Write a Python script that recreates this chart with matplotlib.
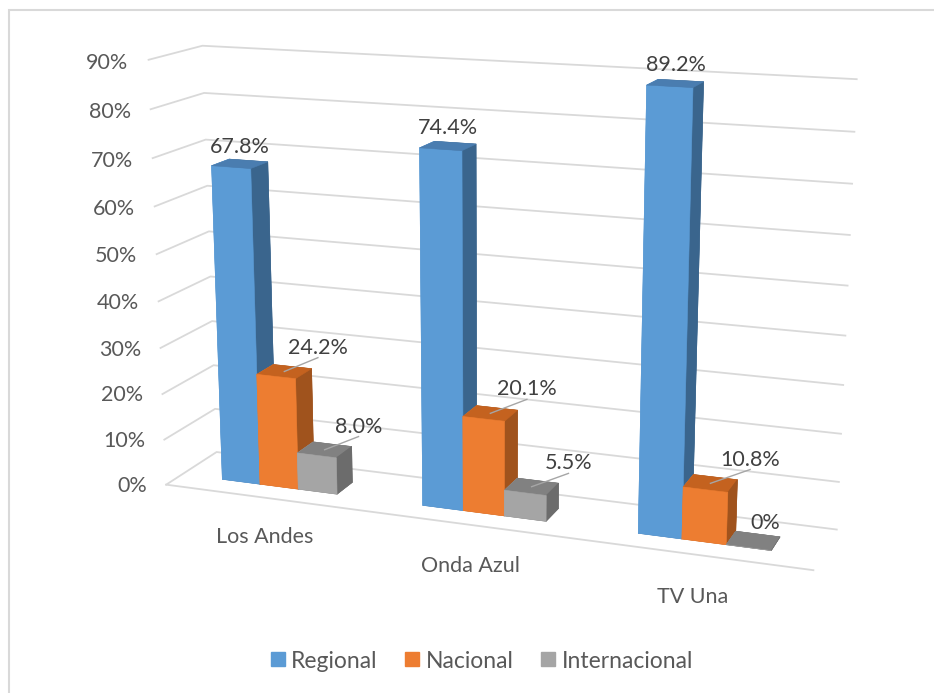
import numpy as np
import matplotlib
matplotlib.use('Agg')
import matplotlib.pyplot as plt
from matplotlib.lines import Line2D
from matplotlib.patches import Rectangle

W, H = 934, 693

# ---- data ----
categories = ['Los Andes', 'Onda Azul', 'TV Una']
series_names = ['Regional', 'Nacional', 'Internacional']
regional = [67.8, 74.4, 89.2]
nacional = [24.2, 20.1, 10.8]
internacional = [8.0, 5.5, 0.0]
value_labels = [['67.8%', '74.4%', '89.2%'],
                ['24.2%', '20.1%', '10.8%'],
                ['8.0%', '5.5%', '0%']]
zticks = [0, 10, 20, 30, 40, 50, 60, 70, 80, 90]
ztick_labels = ['0%', '10%', '20%', '30%', '40%', '50%', '60%', '70%', '80%', '90%']

# ---- style ----
front_col = ['#5B9BD5', '#ED7D31', '#A5A5A5']
top_col = ['#4A7DB0', '#C4621F', '#818181']
side_col = ['#3A658D', '#A0531D', '#6C6C6C']
grid_col = '#D9D9D9'
txt_col = '#595959'
val_col = '#404040'
FS = 15.5

# camera / layout (fitted to reference geometry)
ELEV, AZIM, FOCAL = 14.374, -69.754, 0.4709
BOX = (3, 0.4952, 1.9571)
SQ, CX, CY = 809.01, 480.40, 304.67
BW, YF, DEP, OFF = 0.1938, 0.3126, 0.3413, -0.0015

plt.rcParams['font.family'] = ['Lato', 'DejaVu Sans']

fig = plt.figure(figsize=(W / 100, H / 100), dpi=100)
fig.add_artist(Rectangle((9 / W, -0.1), 1.2, 1.1 - 10 / H,
                         transform=fig.transFigure, fill=False,
                         edgecolor=grid_col, linewidth=1.5))

ax = fig.add_axes([(CX - SQ / 2) / W, 1 - (CY + SQ / 2) / H, SQ / W, SQ / H], projection='3d')
ax.set_xlim(-0.5, 2.5)
ax.set_ylim(0, 1)
ax.set_zlim(0, 90)
ax.set_xticks([])
ax.set_yticks([])
ax.set_zticks([])
ax.set_axis_off()
ax.view_init(ELEV, AZIM)
ax.set_proj_type('persp', focal_length=FOCAL)
ax.set_box_aspect(BOX)
ax.computed_zorder = False

# walls gridlines and floor front edge
x0, x1 = ax.get_xlim()
y0, y1 = ax.get_ylim()
for z in zticks:
    ax.plot([x0, x0, x1], [y0, y1, y1], [z, z, z], color=grid_col, lw=1.3, zorder=0.1)
ax.plot([x0, x1], [y0, y0], [0, 0], color=grid_col, lw=1.3, zorder=0.1)

# bars (drawn left to right so nearer bars cover farther ones)
vals = [regional, nacional, internacional]
k = 0
for i in range(len(categories)):
    for s in range(len(vals)):
        val = vals[s][i]
        xl = i + OFF + (s - 1.5) * BW
        cols = [top_col[s], top_col[s], front_col[s], side_col[s], front_col[s], side_col[s]]
        ax.bar3d([xl], [YF], [0], BW, DEP, [val], color=cols, shade=False,
                 edgecolor=cols, linewidth=0.4, zorder=1 + k)
        k += 1

fig.canvas.draw()


def to_fig(x, y, z):
    """Project a 3D data point through the axes' own projection to figure coords."""
    M = ax.get_proj()
    v = M @ np.array([x, y, z, 1.0])
    d = ax.transData.transform((v[0] / v[3], v[1] / v[3]))
    return fig.transFigure.inverted().transform(d)


# value labels
for s, v in enumerate(vals):
    for i, val in enumerate(v):
        xc = i + OFF + (s - 1) * BW
        yc = YF + DEP / 2
        lab = value_labels[s][i]
        if s == 0:
            px, py = to_fig(xc, yc, val + 1.5)
        elif val == 0:
            px, py = to_fig(xc + 0.05, yc, val + 2)
        else:
            ax.plot([xc, xc + 0.17], [yc, yc], [val, val + 3.8], color='#A6A6A6', lw=1.0, zorder=30)
            px, py = to_fig(xc + 0.17, yc, val + 3.8)
        fig.text(px, py, lab, ha='center', va='bottom', color=val_col, fontsize=FS, zorder=40)

# value axis labels
for z, lab in zip(zticks, ztick_labels):
    px, py = to_fig(x0 - 0.1, y0, z - 0.8)
    fig.text(px, py, lab, ha='right', va='center', color=txt_col, fontsize=FS, zorder=40)

# category labels
for i, c in enumerate(categories):
    px, py = to_fig(i - 0.005, y0, -8.8)
    fig.text(px, py, c, ha='center', va='center', color=txt_col, fontsize=FS, zorder=40)

handles = [Line2D([], [], marker='s', ls='', color=c, markersize=9.5) for c in front_col]
fig.legend(handles, series_names, loc='center', ncol=3, frameon=False,
           bbox_to_anchor=(482 / W, 1 - 661 / H), fontsize=16.5,
           handlelength=0.6, handletextpad=0.3, columnspacing=1.2, labelcolor=txt_col)

fig.savefig('out.png', dpi=100)
